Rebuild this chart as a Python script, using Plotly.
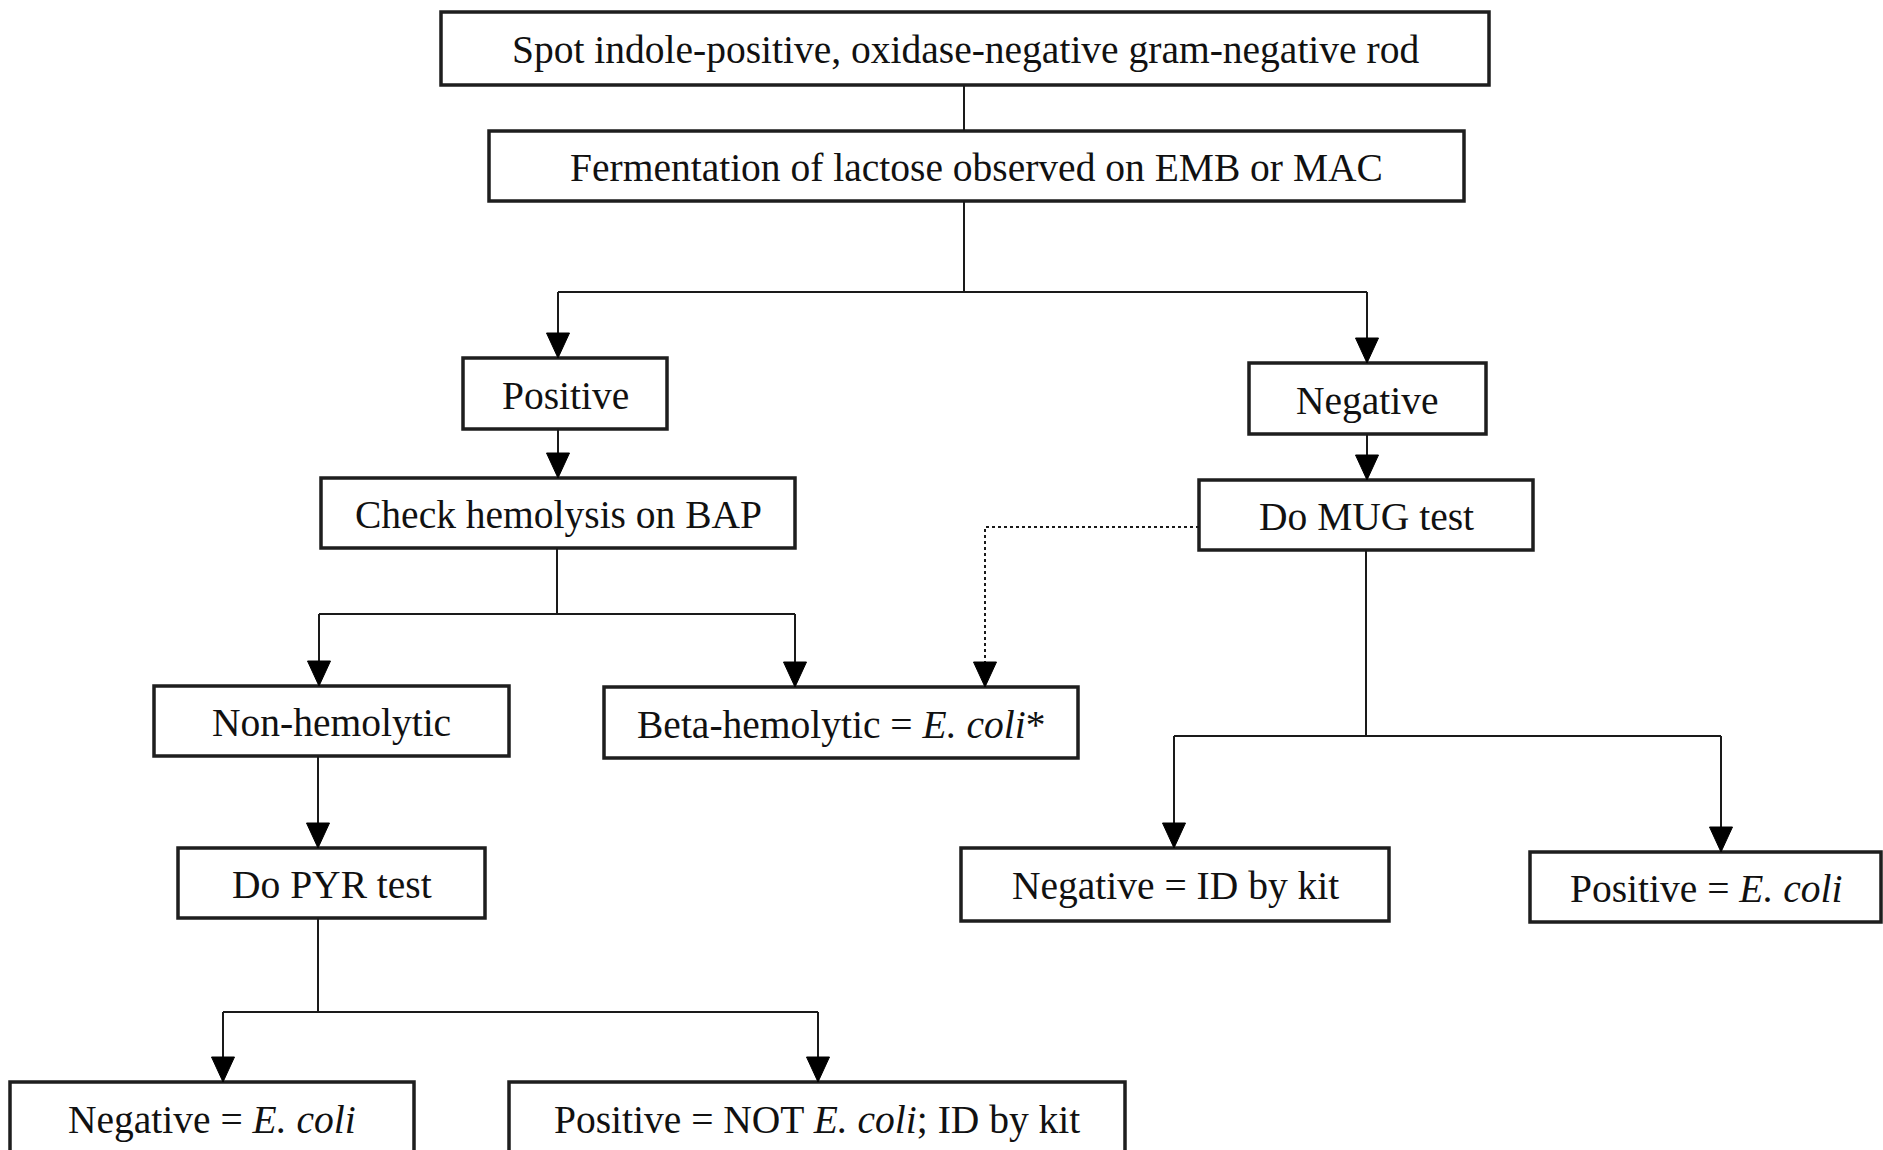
import plotly.graph_objects as go

# ---- node content ----
labels = [
    "Spot indole-positive, oxidase-negative gram-negative rod",   # 0
    "Fermentation of lactose observed on EMB or MAC",             # 1
    "Positive",                                                   # 2
    "Negative",                                                   # 3
    "Check hemolysis on BAP",                                     # 4
    "Do MUG test",                                                # 5
    "Non-hemolytic",                                              # 6
    "Beta-hemolytic = <i>E. coli</i>*",                           # 7
    "Do PYR test",                                                # 8
    "Negative = ID by kit",                                       # 9
    "Positive = <i>E. coli</i>",                                  # 10
    "Negative = <i>E. coli</i>",                                  # 11
    "Positive = NOT <i>E. coli</i>; ID by kit",                   # 12
]

# ---- node geometry (pixel layout) ----
box_left   = [441, 489, 463, 1249, 321, 1199, 154, 604, 178, 961, 1530, 10, 509]
box_right  = [1489, 1464, 667, 1486, 795, 1533, 509, 1078, 485, 1389, 1881, 414, 1125]
box_top    = [12, 131, 358, 363, 478, 480, 686, 687, 848, 848, 852, 1082, 1082]
box_bottom = [85, 201, 429, 434, 548, 550, 756, 758, 918, 921, 922, 1160, 1160]

# ---- connections: parent, stem x, branch y, children, drop x per child, arrow ----
branches = [
    dict(parent=0, stem_x=964, branch_y=None, children=[1], drop_x=[964], arrow=False),
    dict(parent=1, stem_x=964, branch_y=292, children=[2, 3], drop_x=[558, 1367], arrow=True),
    dict(parent=2, stem_x=558, branch_y=None, children=[4], drop_x=[558], arrow=True),
    dict(parent=3, stem_x=1367, branch_y=None, children=[5], drop_x=[1367], arrow=True),
    dict(parent=4, stem_x=557, branch_y=614, children=[6, 7], drop_x=[319, 795], arrow=True),
    dict(parent=5, stem_x=1366, branch_y=736, children=[9, 10], drop_x=[1174, 1721], arrow=True),
    dict(parent=6, stem_x=318, branch_y=None, children=[8], drop_x=[318], arrow=True),
    dict(parent=8, stem_x=318, branch_y=1012, children=[11, 12], drop_x=[223, 818], arrow=True),
]
# dotted side link from "Do MUG test" (left side) to "Beta-hemolytic"
dotted_from, dotted_to, dotted_y, dotted_x = 5, 7, 527, 985

LINE = "#1a1a1a"
ARROW_W, ARROW_H = 23, 25

fig = go.Figure()
shapes = []
annotations = []

def add_line(xs, ys, dash="solid", width=2):
    fig.add_trace(go.Scatter(x=xs, y=ys, mode="lines",
                             line=dict(color=LINE, width=width, dash=dash),
                             hoverinfo="skip", showlegend=False))

def add_arrowhead(x, tip):
    shapes.append(dict(type="path",
                       path=f"M {x - ARROW_W/2},{tip - ARROW_H} L {x + ARROW_W/2},{tip - ARROW_H} L {x},{tip} Z",
                       fillcolor="#000", line=dict(color="#000", width=1), layer="above"))

for b in branches:
    p = b["parent"]
    y0 = box_bottom[p]
    if b["branch_y"] is None:
        c = b["children"][0]
        tip = box_top[c]
        end = tip - (ARROW_H - 2 if b["arrow"] else 0)
        add_line([b["stem_x"], b["stem_x"]], [y0, end])
        if b["arrow"]:
            add_arrowhead(b["drop_x"][0], tip)
    else:
        by = b["branch_y"]
        add_line([b["stem_x"], b["stem_x"]], [y0, by])
        add_line([min(b["drop_x"]), max(b["drop_x"])], [by, by])
        for c, dx in zip(b["children"], b["drop_x"]):
            tip = box_top[c]
            add_line([dx, dx], [by, tip - ARROW_H + 2])
            add_arrowhead(dx, tip)

# dotted link
add_line([box_left[dotted_from], dotted_x, dotted_x],
         [dotted_y, dotted_y, box_top[dotted_to] - ARROW_H + 2], dash="dot", width=2)
add_arrowhead(dotted_x, box_top[dotted_to])

# boxes + labels
for i, lab in enumerate(labels):
    shapes.append(dict(type="rect", x0=box_left[i], x1=box_right[i],
                       y0=box_top[i], y1=box_bottom[i],
                       line=dict(color="#1e1e1e", width=3.5), fillcolor="white", layer="below"))
    yc = (box_top[i] + min(box_bottom[i], box_top[i] + 71)) / 2 + 2
    annotations.append(dict(x=(box_left[i] + box_right[i]) / 2, y=yc,
                            text=lab, showarrow=False, xanchor="center", yanchor="middle",
                            font=dict(family="Liberation Serif, Times New Roman, serif",
                                      size=39.5, color="#111111")))

fig.update_layout(
    width=1883, height=1150,
    margin=dict(l=0, r=0, t=0, b=0),
    paper_bgcolor="white", plot_bgcolor="white",
    xaxis=dict(range=[0, 1883], visible=False, fixedrange=True),
    yaxis=dict(range=[1150, 0], visible=False, fixedrange=True),
    shapes=shapes, annotations=annotations,
    showlegend=False,
)

fig.write_html("out.html", include_plotlyjs=True,
               config={"displayModeBar": False, "staticPlot": True},
               post_script="document.body.style.margin='0';document.body.style.overflow='hidden';")
